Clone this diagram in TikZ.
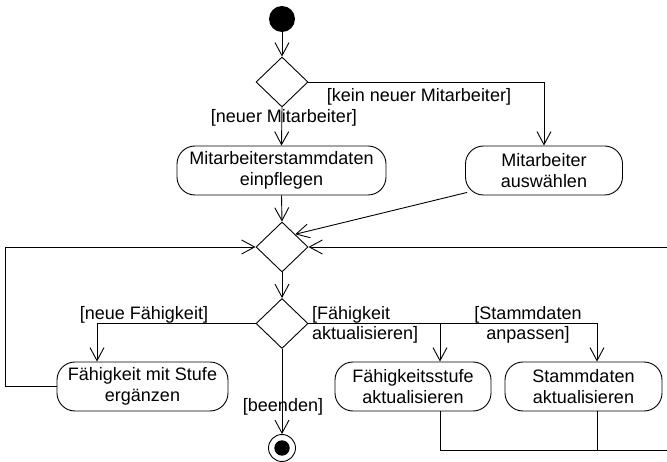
\documentclass[tikz,border=0pt]{standalone}
\usepackage{fontspec}
\setmainfont{Liberation Sans}
\usetikzlibrary{
    arrows.meta,
    shapes.geometric
}
\tikzset{
    action/.style={draw, rectangle, rounded corners=18pt, line width=0.9pt,
        minimum height=49pt, inner sep=2pt, align=center,
        font=\fontsize{18}{21}\selectfont},
    decision/.style={draw, diamond, line width=0.9pt, inner sep=0pt,
        minimum width=52pt, minimum height=50pt},
    initial/.style={circle, fill=black, inner sep=0pt, minimum size=26pt},
    final/.style={circle, draw, line width=0.9pt, inner sep=0pt, minimum size=27pt,
        path picture={\fill (path picture bounding box.center) circle (7.7pt);}},
    flowarrow/.style={-{Straight Barb[length=13pt,width=14pt]}, line width=0.9pt},
    loopline/.style={line width=0.9pt},
    guard/.style={inner sep=0pt, font=\fontsize{18}{20}\selectfont}
}

\begin{document}
\begin{tikzpicture}[x=1pt, y=-1pt]
    \useasboundingbox (0,0) rectangle (667,462);
    \clip (0,0) rectangle (667,462);

    % nodes
    \node[initial] (start) at (282,19) {};
    \node[decision] (dec1) at (282,82) {};
    \node[action, minimum width=209pt] (einpflegen) at (281.5,170.5) {Mitarbeiterstammdaten\\einpflegen};
    \node[action, minimum width=157pt] (auswaehlen) at (544,170.5) {Mitarbeiter\\auswählen};
    \node[decision] (merge) at (282,247) {};
    \node[decision] (dec2) at (282,323.5) {};
    \node[action, minimum width=171pt] (ergaenzen) at (142.5,386.5) {Fähigkeit mit Stufe\\ergänzen};
    \node[action, minimum width=156pt] (stufe) at (413,386.5) {Fähigkeitsstufe\\aktualisieren};
    \node[action, minimum width=157pt] (stamm) at (583.5,386.5) {Stammdaten\\aktualisieren};
    \node[final] (stop) at (282,448) {};

    % guards
    \node[guard] (gKein) at (419,97) {[kein neuer Mitarbeiter]};
    \node[guard] (gNeuerMA) at (284,118) {[neuer Mitarbeiter]};
    \node[guard] (gNeueF) at (144,315) {[neue Fähigkeit]};
    \node[guard, align=left, anchor=west] (gFaeh) at (312,325) {[Fähigkeit\\aktualisieren]};
    \node[guard, align=center] (gStamm) at (528,325) {[Stammdaten\\anpassen]};
    \node[guard] (gBeenden) at (283,407) {[beenden]};

    % loop corners outside the visible area
    \coordinate (loopSE) at (690,450);

    % connectors
    \draw[flowarrow] (start) -- (dec1.north);
    \draw[flowarrow] (dec1.south) -- (einpflegen.north);
    \draw[flowarrow] (dec1.east) -| (auswaehlen.north);
    \draw[flowarrow] (einpflegen.south) -- (merge.north);
    \draw[flowarrow] ([xshift=2pt,yshift=3pt]auswaehlen.south west) -- (merge.north east);
    \draw[flowarrow] (merge.south) -- (dec2.north);
    \draw[flowarrow] (dec2.west) -| ([xshift=-45.5pt]ergaenzen.north);
    \draw[flowarrow] (dec2.east) -| ([xshift=13.5pt]stamm.north);
    \draw[flowarrow] (dec2.east) -| ([xshift=27pt]stufe.north);
    \draw[flowarrow] (dec2.south) -- (stop.north);
    \draw[flowarrow] (ergaenzen.west) -- ++(-51,0) |- (merge.west);
    \draw[flowarrow] ([xshift=27pt]stufe.south) |- (loopSE) |- (merge.east);
    \draw[loopline] ([xshift=13.5pt]stamm.south) |- (loopSE);
\end{tikzpicture}
\end{document}
